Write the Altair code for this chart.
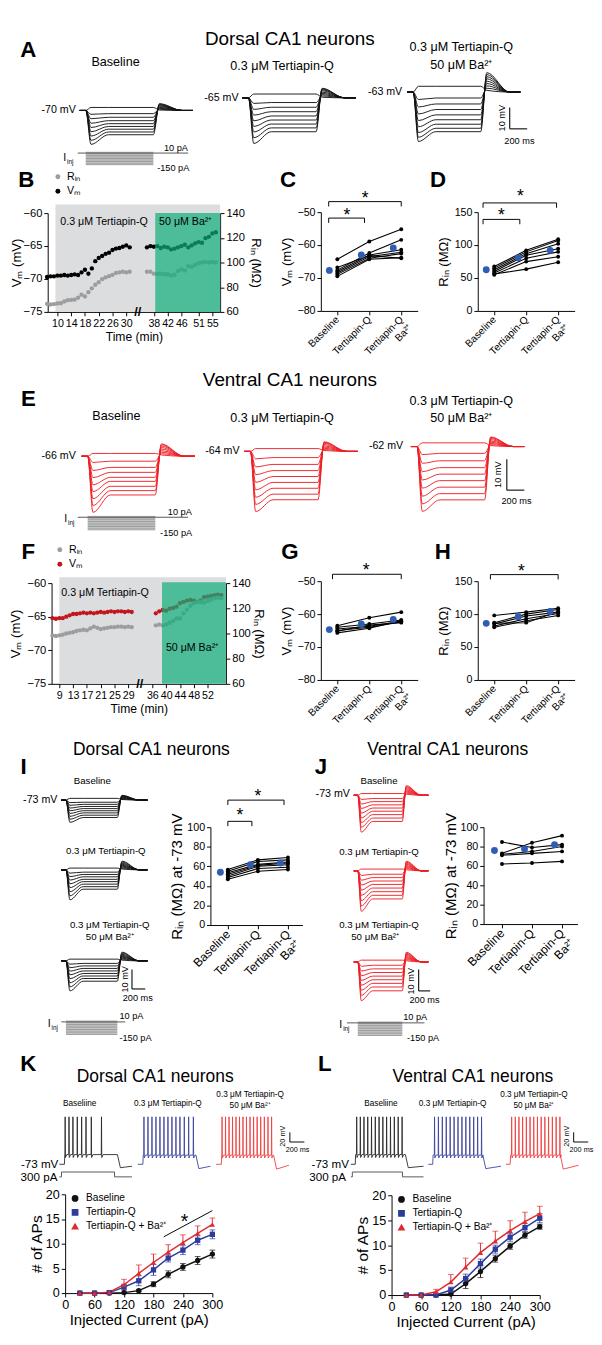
import altair as alt
import pandas as pd

FONT = "Liberation Sans"
OX, OY = 8, 6          # reference-pixel position of the view origin
W, H = 586, 1326       # single view covering the whole figure

# ---------------- colours ----------------
TRACE_BLACK = "#111111"
TRACE_RED = "#ee1d25"
DOT_GRAY = "#9d9d9d"
DOT_RED = "#c1161e"
MEAN_BLUE = "#2f5db4"
SHADE_GRAY = "#dcdddf"
SHADE_GREEN = "#0fae7b"
AP_COLORS = ["#262626", "#3b409c", "#ef3e3e"]
FI_COLORS = ["#111111", "#2d3b9b", "#e12a2e"]

# ---------------- step-protocol voltage families (mV from rest; +10 ... -150 pA) ----------------
PROTO_LEVELS = [10, -10, -30, -50, -70, -90, -110, -130, -150]
A1_SS = [1.4, -1.5, -3.2, -4.8, -6.2, -7.5, -8.8, -10.1, -11.4]
A1_PK = [1.4, -1.8, -3.9, -6.0, -8.0, -10.0, -12.0, -14.0, -15.9]
A1_RB = [0.2, 0.6, 1.0, 1.4, 1.8, 2.2, 2.6, 2.9, 3.2]
A2_SS = [1.8, -2.2, -4.4, -6.5, -8.5, -10.4, -12.3, -14.1, -15.9]
A2_PK = [1.8, -2.6, -5.4, -8.1, -10.8, -13.4, -16.0, -18.7, -21.4]
A2_RB = [0.3, 0.9, 1.5, 2.1, 2.7, 3.3, 3.8, 4.2, 4.5]
A3_SS = [2.7, -2.8, -5.6, -8.2, -10.7, -13.0, -15.1, -17.0, -18.6]
A3_PK = [2.7, -3.5, -7.0, -10.3, -13.4, -16.3, -19.0, -21.2, -23.2]
A3_RB = [0.8, 1.8, 2.9, 4.0, 5.1, 6.2, 7.2, 8.2, 9.1]

E1_SS = [0.9, -1.6, -3.6, -5.2, -6.8, -8.1, -9.7, -11.1, -12.5]
E1_PK = [0.9, -2.0, -4.6, -6.9, -9.2, -11.4, -13.7, -15.9, -18.1]
E1_RB = [0.4, 0.8, 1.3, 1.8, 2.3, 2.8, 3.3, 3.7, 4.0]
E2_SS = [0.9, -2.0, -4.2, -6.2, -8.1, -10.0, -11.9, -13.8, -15.6]
E2_PK = [0.9, -2.4, -5.0, -7.5, -10.0, -12.4, -14.8, -17.1, -19.4]
E2_RB = [0.3, 0.6, 1.0, 1.4, 1.8, 2.2, 2.6, 2.9, 3.1]
E3_SS = [1.2, -2.2, -4.6, -6.8, -8.9, -11.0, -13.1, -15.2, -17.2]
E3_PK = [1.2, -2.6, -5.4, -8.1, -10.8, -13.4, -16.0, -18.5, -20.9]
E3_RB = [0.3, 0.6, 1.0, 1.4, 1.8, 2.2, 2.6, 2.9, 3.1]

I1_SS = [0.9, -1.1, -2.2, -3.3, -4.4, -5.5, -6.6, -7.8, -9.0]
I1_PK = [0.9, -1.3, -2.7, -4.1, -5.5, -6.9, -8.4, -9.9, -11.5]
I1_RB = [0.3, 0.6, 0.9, 1.2, 1.5, 1.8, 2.1, 2.3, 2.5]
I2_SS = [0.9, -1.2, -2.4, -3.6, -4.9, -6.1, -7.4, -8.7, -10.0]
I2_PK = [0.9, -1.7, -3.5, -5.3, -7.2, -9.2, -11.3, -13.4, -15.5]
I2_RB = [0.4, 0.9, 1.4, 1.9, 2.4, 2.9, 3.4, 4.0, 4.5]
I3_SS = [0.9, -1.3, -2.6, -3.9, -5.2, -6.5, -7.8, -9.1, -10.5]
I3_PK = [0.9, -1.7, -3.5, -5.3, -7.2, -9.2, -11.3, -13.4, -15.5]
I3_RB = [0.4, 0.9, 1.4, 1.9, 2.4, 2.9, 3.4, 4.0, 4.5]

J1_SS = [0.8, -1.5, -3.0, -4.5, -6.0, -7.5, -9.1, -10.7, -12.3]
J1_PK = [0.8, -2.0, -4.1, -6.2, -8.4, -10.6, -12.8, -15.0, -17.3]
J1_RB = [0.5, 1.0, 1.5, 2.0, 2.5, 3.0, 3.5, 4.0, 4.5]
J2_SS = [0.8, -1.6, -3.2, -4.8, -6.4, -8.1, -9.8, -11.5, -13.2]
J2_PK = [0.8, -2.2, -4.4, -6.7, -9.1, -11.5, -14.0, -16.5, -19.0]
J2_RB = [0.5, 1.0, 1.5, 2.0, 2.5, 3.0, 3.5, 4.0, 4.5]
J3_SS = [0.8, -1.6, -3.3, -5.0, -6.7, -8.4, -10.1, -11.8, -13.6]
J3_PK = [0.8, -2.1, -4.3, -6.5, -8.7, -11.0, -13.3, -15.7, -18.2]
J3_RB = [0.5, 1.0, 1.5, 2.0, 2.5, 3.0, 3.5, 4.0, 4.5]

# ---------------- B / F time courses ----------------
B_TIME = [7, 8, 9, 10, 11, 12, 13, 14, 15, 16, 17, 18, 19, 20, 21, 22, 23, 24, 25, 26, 27, 28, 29, 30, 31,
          36, 37, 38, 39, 40, 41, 42, 43, 44, 45, 46, 47, 48, 49, 50, 51, 52, 53, 54, 55, 56]
B_VM = [-69.7, -69.6, -69.6, -69.5, -69.5, -69.4, -69.5, -69.4, -69.3, -69.4, -69.0, -68.6, -69.2, -68.4,
        -67.3, -66.8, -66.5, -66.2, -66.0, -65.6, -65.4, -65.3, -65.1, -64.9, -65.2,
        -65.2, -65.0, -65.1, -65.0, -65.3, -65.1, -65.2, -65.5, -65.4, -65.2, -65.0, -64.8, -65.2, -64.9,
        -64.6, -64.4, -64.5, -63.8, -63.6, -63.1, -62.9]
B_RIN = [66.5, 66.0, 66.3, 66.8, 67.0, 68.5, 69.5, 69.8, 70.0, 71.5, 74.0, 72.5, 76.0, 79.0, 82.0, 84.0,
         86.5, 88.0, 89.0, 90.0, 91.5, 92.0, 92.5, 92.0, 92.5,
         92.5, 92.5, 91.0, 90.5, 91.0, 90.5, 90.5, 89.5, 90.0, 93.0, 94.5, 93.5, 97.0, 96.5, 98.0, 99.5,
         100.0, 100.5, 100.0, 100.5, 100.0]
B_TICKS = [10, 14, 18, 22, 26, 30, 38, 42, 46, 51, 55]

F_TIME = [7, 8, 9, 10, 11, 12, 13, 14, 15, 16, 17, 18, 19, 20, 21, 22, 23, 24, 25, 26, 27, 28, 29, 30,
          37, 38, 39, 40, 41, 42, 43, 44, 45, 46, 47, 48, 49, 50, 51, 52, 53, 54, 55, 56]
F_VM = [-65.2, -65.3, -65.2, -65.2, -65.0, -64.8, -64.6, -64.6, -64.5, -64.4, -64.5, -64.4, -64.5, -64.4,
        -64.3, -64.4, -64.3, -64.2, -64.3, -64.2, -64.2, -64.3, -64.2, -64.3,
        -64.5, -64.2, -64.0, -64.1, -63.8, -63.7, -63.5, -63.0, -62.8, -62.6, -62.5, -62.6, -62.8, -62.6,
        -62.1, -62.0, -61.9, -61.8, -61.7, -61.8]
F_RIN = [98.5, 98.0, 98.5, 99.0, 100.0, 100.5, 101.0, 102.0, 102.5, 103.0, 102.5, 104.0, 105.5, 104.5,
         103.5, 104.0, 104.5, 105.0, 105.0, 105.5, 105.5, 105.0, 105.5, 105.0,
         106.5, 107.0, 106.5, 107.0, 108.5, 110.0, 112.0, 112.0, 116.0, 119.0, 122.0, 124.0, 125.0, 125.0,
         124.5, 126.0, 127.0, 128.0, 128.5, 128.0]
F_TICKS = [9, 13, 17, 21, 25, 29, 36, 40, 44, 48, 52]

# ---------------- paired plots (Baseline, Tertiapin-Q, Tertiapin-Q + Ba2+) ----------------
C_BASE = [-64.3, -67.6, -68.0, -68.5, -68.9, -69.5, -66.8]
C_TQ = [-58.9, -62.4, -63.0, -63.5, -64.0, -64.3, -63.2]
C_BA = [-55.2, -58.4, -61.4, -62.2, -62.6, -63.8, -64.0]
C_MEAN = [-67.7, -63.0, -60.9]
D_BASE = [67.5, 65.0, 62.5, 60.0, 57.6, 55.0, 56.0]
D_TQ = [92.0, 89.7, 87.0, 84.6, 80.0, 74.9, 63.5]
D_BA = [109.0, 106.8, 102.0, 94.5, 89.7, 82.3, 73.9]
D_MEAN = [62.5, 80.8, 92.0]
G_BASE = [-63.5, -64.0, -64.5, -65.0, -65.7, -65.2]
G_TQ = [-61.1, -63.0, -63.7, -64.0, -64.3, -63.3]
G_BA = [-59.4, -61.8, -62.2, -62.4, -62.0, -62.6]
G_MEAN = [-64.7, -63.0, -61.6]
H_BASE = [98.0, 87.0, 85.0, 82.0, 80.0, 86.0]
H_TQ = [103.0, 100.0, 97.0, 93.0, 90.0, 87.0]
H_BA = [109.0, 107.0, 103.0, 101.0, 98.0, 104.0]
H_MEAN = [86.0, 96.0, 104.0]
I_BASE = [56.7, 55.0, 53.5, 51.8, 50.2, 48.5, 46.8]
I_TQ = [66.6, 65.0, 62.0, 61.0, 60.0, 57.8, 55.0]
I_BA = [69.0, 66.6, 64.4, 63.5, 61.7, 59.0, 56.7]
I_MEAN = [54.0, 61.7, 63.4]
J_BASE = [84.7, 73.0, 72.0, 71.0, 62.0]
J_TQ = [79.0, 84.0, 75.0, 73.0, 63.0]
J_BA = [82.0, 91.3, 80.0, 75.0, 64.7]
J_MEAN = [76.0, 77.5, 82.0]

# significance brackets: (from, to, level) and stars (x, y)
C_BR = [(-0.27, 2.0, -46.8), (-0.27, 0.85, -51.8)]
C_ST = [(0.87, -45.0), (0.3, -49.9)]
D_BR = [(-0.35, 1.95, 164.0), (-0.35, 0.8, 139.0)]
D_ST = [(0.82, 179.0), (0.22, 150.0)]
G_BR = [(-0.15, 2.0, -47.9)]
G_ST = [(0.9, -45.9)]
H_BR = [(-0.12, 2.0, 160.0)]
H_ST = [(0.85, 170.0)]
I_BR = [(0.0, 1.87, 127.7), (0.0, 0.8, 106.0)]
I_ST = [(1.0, 134.7), (0.4, 115.0)]

# ---------------- K / L: firing ----------------
K_BL_SP = [80, 133, 187, 247, 307, 367, 440, 580]
K_TQ_SP = [85, 140, 195, 250, 305, 360, 415, 470, 525, 580, 640, 700, 765]
K_BA_SP = [80, 128, 176, 224, 272, 320, 368, 416, 465, 514, 563, 612, 662, 712, 762]
L_BL_SP = [80, 130, 180, 232, 284, 336, 388, 440, 492, 545, 598, 651, 705]
L_TQ_SP = [85, 138, 192, 246, 300, 354, 408, 462, 516, 570, 624, 678, 732]
L_BA_SP = [80, 130, 180, 231, 282, 333, 384, 435, 486, 537, 588, 640, 692, 744]

CURRENT = [30, 60, 90, 120, 150, 180, 210, 240, 270, 300]
FI_CONDS = ["Baseline", "Tertiapin-Q", "Tertiapin-Q + Ba²⁺"]
K_BL = [0, 0, 0, 0.1, 0.5, 1.8, 3.8, 5.3, 6.6, 7.9]
K_BL_E = [0, 0, 0, 0.1, 0.2, 0.5, 0.7, 0.7, 0.8, 0.8]
K_TQ = [0, 0, 0.1, 1.2, 2.5, 4.7, 7.1, 8.7, 10.7, 11.9]
K_TQ_E = [0, 0, 0.1, 0.6, 1.0, 1.1, 0.8, 0.9, 0.9, 0.9]
K_BA = [0, 0, 0.2, 1.7, 4.0, 6.2, 8.3, 10.2, 12.1, 13.9]
K_BA_E = [0, 0, 0.2, 1.1, 1.7, 1.7, 1.5, 1.6, 1.5, 1.3]
L_BL = [0, 0, 0, 0.2, 2.3, 4.7, 7.3, 9.8, 12.0, 13.7]
L_BL_E = [0, 0, 0, 0.2, 1.0, 1.2, 0.7, 0.6, 0.6, 0.5]
L_TQ = [0, 0, 0, 1.0, 3.3, 6.3, 9.2, 11.6, 13.5, 15.4]
L_TQ_E = [0, 0, 0, 0.6, 0.9, 0.9, 0.8, 0.8, 0.8, 0.9]
L_BA = [0, 0, 0.65, 2.6, 5.6, 8.5, 10.8, 12.9, 14.7, 16.3]
L_BA_E = [0, 0, 0.5, 1.5, 1.8, 1.9, 2.0, 2.0, 1.9, 1.5]
K_SIG = [(201, 11.4), (300, 16.7)]
K_SIG_STAR = (243, 15.3)

COND_LABELS = "datum.value == 0 ? 'Baseline' : (datum.value == 1 ? 'Tertiapin-Q' : ['Tertiapin-Q', 'Ba²⁺'])"

T_ON, T_OFF, T_END = 70, 845, 1300
T_BACK = 330   # ms after step end by which the rebound has returned to rest


# ================= helpers =================
def XS(d, x0, w):
    return alt.Scale(domain=list(d), range=[x0 - OX, x0 + w - OX], nice=False, zero=False)


def YS(d, y0, h):
    return alt.Scale(domain=list(d), range=[y0 + h - OY, y0 - OY], nice=False, zero=False)


def off_bottom(y0, h):
    return (y0 + h - OY) - H


def off_left(x0):
    return -(x0 - OX)


def off_right(x0, w):
    return (x0 + w - OX) - W


def one():
    return pd.DataFrame({"k": [0]})


def txt(s, x, y, size=11, weight="normal", align="center", baseline="middle", angle=0, color="black"):
    return alt.Chart(one()).mark_text(text=s, font=FONT, fontSize=size, fontWeight=weight, align=align,
                                      baseline=baseline, angle=angle, color=color).encode(
        x=alt.value(x - OX), y=alt.value(y - OY))


def texts_of(texts):
    out = []
    for t in texts:
        kw = t[3] if len(t) > 3 else {}
        out.append(txt(t[0], t[1], t[2], **kw))
    return out


def iinj(x, y):
    return [txt("I", x, y, size=11, align="left"), txt("inj", x + 4, y + 4, size=6.5, align="left")]


def family(V0, ss, pk, rb):
    rows = []
    for i in range(len(ss)):
        pts = [(0, V0), (T_ON, V0), (T_ON + 60, V0 + pk[i]), (T_ON + 260, V0 + ss[i]),
               (T_OFF, V0 + ss[i]), (T_OFF + 70, V0 + rb[i]), (T_OFF + T_BACK, V0), (T_END, V0)]
        for k, (t, v) in enumerate(pts):
            rows.append({"sw": i, "o": k, "t": t, "v": v})
    return pd.DataFrame(rows)


def step_panel(org, w, h, V0, v0pix, kmv, ss, pk, rb, color, texts=(), proto=None, sbar=None):
    ydom = (V0 - (org[1] + h - v0pix) / kmv, V0 + (v0pix - org[1]) / kmv)
    xs = XS((0, T_END), org[0], w)
    ys = YS(ydom, org[1], h)
    layers = [alt.Chart(family(V0, ss, pk, rb)).mark_line(color=color, strokeWidth=0.95,
                                                          interpolate="monotone").encode(
        x=alt.X("t:Q", scale=xs, axis=None), y=alt.Y("v:Q", scale=ys, axis=None),
        detail="sw:N", order="o:Q")]
    if sbar is not None:
        xr, yr, dv, lab_v, lab_t = sbar
        t0 = (xr - org[0]) / w * T_END
        v0 = ydom[1] - (yr - org[1]) / h * (ydom[1] - ydom[0])
        segs = pd.DataFrame({"t": [t0, t0], "t2": [t0 + 200, t0], "v": [v0, v0], "v2": [v0, v0 + dv]})
        layers.append(alt.Chart(segs).mark_rule(color="black", strokeWidth=1.1).encode(
            x=alt.X("t:Q", scale=xs, axis=None), x2="t2:Q",
            y=alt.Y("v:Q", scale=ys, axis=None), y2="v2:Q"))
        layers.append(txt("10 mV", lab_v[0], lab_v[1], size=9.5, angle=270))
        layers.append(txt("200 ms", lab_t[0], lab_t[1], size=9.5))
    if proto is not None:
        p0, p150, xa, xb, lab_i, lab_10, lab_150 = proto
        k = (p150 - p0) / 150.0
        pdom = (-(org[1] + h - p0) / k, (p0 - org[1]) / k)
        ps = YS(pdom, org[1], h)
        box = pd.DataFrame({"t": [T_ON], "t2": [T_OFF], "i": [PROTO_LEVELS[0]], "i2": [PROTO_LEVELS[-1]]})
        lv = pd.DataFrame({"t": [T_ON] * len(PROTO_LEVELS), "t2": [T_OFF] * len(PROTO_LEVELS),
                           "i": PROTO_LEVELS})
        base = pd.DataFrame({"t": [(xa - org[0]) / w * T_END], "t2": [(xb - org[0]) / w * T_END], "i": [0]})
        layers.append(alt.Chart(box).mark_rect(color="#d4d4d4").encode(
            x=alt.X("t:Q", scale=xs, axis=None), x2="t2:Q", y=alt.Y("i:Q", scale=ps, axis=None), y2="i2:Q"))
        layers.append(alt.Chart(lv).mark_rule(color="#8a8a8a", strokeWidth=0.8).encode(
            x=alt.X("t:Q", scale=xs, axis=None), x2="t2:Q", y=alt.Y("i:Q", scale=ps, axis=None)))
        layers.append(alt.Chart(base).mark_rule(color="#555555", strokeWidth=1).encode(
            x=alt.X("t:Q", scale=xs, axis=None), x2="t2:Q", y=alt.Y("i:Q", scale=ps, axis=None)))
        layers += iinj(lab_i[0], lab_i[1])
        layers.append(txt("10 pA", lab_10[0], lab_10[1], size=9.5, align="left"))
        layers.append(txt("-150 pA", lab_150[0], lab_150[1], size=9.5, align="left"))
    layers += texts_of(texts)
    ch = alt.layer(*layers)
    if proto is not None:
        ch = ch.resolve_scale(y="independent")
    return ch


def ap_points(spikes, t_on, t_off, vp, vpk, vaft, vend):
    pts = [(0, -73), (t_on, -73), (t_on + 5, vp)]
    for s in spikes:
        pts += [(s - 3, vp), (s, vpk), (s + 4, vp - 6), (s + 22, vp)]
    pts += [(t_off, vp), (t_off + 40, vaft), (1000, vend)]
    return pd.DataFrame({"o": list(range(len(pts))), "t": [p[0] for p in pts], "v": [p[1] for p in pts]})


def ap_panel(org, w, h, spikes, t_on, t_off, vp, vaft, vend, color, texts=(), current=None, sbar=None):
    V0, v0pix, k = -73, 1176, 0.5
    ydom = (V0 - (org[1] + h - v0pix) / k, V0 + (v0pix - org[1]) / k)
    xs = XS((0, 1000), org[0], w)
    ys = YS(ydom, org[1], h)
    layers = [alt.Chart(ap_points(spikes, t_on, t_off, vp, 25, vaft, vend)).mark_line(
        color=color, strokeWidth=0.9).encode(
        x=alt.X("t:Q", scale=xs, axis=None), y=alt.Y("v:Q", scale=ys, axis=None), order="o:Q")]
    if sbar is not None:
        xr, yr = sbar
        t0 = (xr - org[0]) / w * 1000
        v0 = ydom[1] - (yr - org[1]) / h * (ydom[1] - ydom[0])
        segs = pd.DataFrame({"t": [t0, t0], "t2": [t0 + 200, t0], "v": [v0, v0], "v2": [v0, v0 + 20]})
        layers.append(alt.Chart(segs).mark_rule(color="black", strokeWidth=1).encode(
            x=alt.X("t:Q", scale=xs, axis=None), x2="t2:Q",
            y=alt.Y("v:Q", scale=ys, axis=None), y2="v2:Q"))
        layers.append(txt("20 mV", xr - 7, yr - 6, size=7.5, angle=270))
        layers.append(txt("200 ms", xr + 8, yr + 8, size=7.5))
    if current is not None:
        p0, p300, lab = current
        kk = (p0 - p300) / 300.0
        cdom = (-(org[1] + h - p0) / kk, (p0 - org[1]) / kk)
        cur = pd.DataFrame({"o": [0, 1, 2, 3, 4, 5],
                            "t": [0, t_on - 40, t_on - 40, t_off - 40, t_off - 40, 1000],
                            "i": [0, 0, 300, 300, 0, 0]})
        layers.append(alt.Chart(cur).mark_line(color="#555555", strokeWidth=1).encode(
            x=alt.X("t:Q", scale=xs, axis=None), y=alt.Y("i:Q", scale=YS(cdom, org[1], h), axis=None),
            order="o:Q"))
        layers.append(txt("300 pA", lab[0], lab[1], size=12, align="right"))
    layers += texts_of(texts)
    ch = alt.layer(*layers)
    if current is not None:
        ch = ch.resolve_scale(y="independent")
    return ch


def paired(org, w, h, cond_vals, means, ydom, yvals, ytitle, tick0, step, brackets, stars,
           texts=(), lab_size=10.5, title_size=13.5, title_pad=4):
    xdom = (-tick0 / step, (w - tick0) / step)
    xs = XS(xdom, org[0], w)
    ys = YS(ydom, org[1], h)
    X = alt.X("x:Q", scale=xs, axis=alt.Axis(values=[0, 1, 2], labelExpr=COND_LABELS, labelAngle=315,
                                             labelAlign="right", labelBaseline="middle", labelFontSize=lab_size,
                                             title=None, labelPadding=3, labelOverlap=False, labelFlush=False,
                                             orient="bottom", offset=off_bottom(org[1], h)))
    Y = alt.Y("y:Q", scale=ys, axis=alt.Axis(values=yvals, title=ytitle, titleFontSize=title_size,
                                             titlePadding=title_pad, labelOverlap=False, labelFlush=False,
                                             orient="left", offset=off_left(org[0])))
    n = len(cond_vals[0])
    cells = pd.DataFrame([{"cell": c, "x": k, "y": cond_vals[k][c]} for k in range(3) for c in range(n)])
    mdf = pd.DataFrame({"x": [k - 0.25 for k in range(3)], "y": means})
    drop = 5.0 * (ydom[1] - ydom[0]) / h
    segs = []
    for (a, b, lvl) in brackets:
        segs += [dict(x=a, x2=b, y=lvl, y2=lvl), dict(x=a, x2=a, y=lvl, y2=lvl - drop),
                 dict(x=b, x2=b, y=lvl, y2=lvl - drop)]
    layers = [
        alt.Chart(cells).mark_line(color="black", strokeWidth=1.1,
                                   point=alt.OverlayMarkDef(filled=True, size=16, color="black")).encode(
            x=X, y=Y, detail="cell:N", order="x:Q"),
        alt.Chart(mdf).mark_circle(size=50, color=MEAN_BLUE, opacity=1).encode(x=X, y=Y),
    ]
    if segs:
        layers.append(alt.Chart(pd.DataFrame(segs)).mark_rule(color="black", strokeWidth=1).encode(
            x=X, x2="x2:Q", y=Y, y2="y2:Q"))
        sdf = pd.DataFrame({"x": [s[0] for s in stars], "y": [s[1] for s in stars]})
        layers.append(alt.Chart(sdf).mark_text(text="*", font=FONT, fontSize=18, dy=4).encode(x=X, y=Y))
    layers += texts_of(texts)
    return alt.layer(*layers)


def timecourse(org, w, h, times, vm, rin, tick_px, ticks, vm_color, gray_px, gray_top_px, green_px,
               green_top_px, legend_xy, lab1, lab2, brk, texts=(), pads=(0, 5, 3)):
    ppm = (tick_px[1][1] - tick_px[0][1]) / (tick_px[1][0] - tick_px[0][0])
    t_a = tick_px[0][0] - (tick_px[0][1] - org[0]) / ppm
    xdom = (t_a, t_a + w / ppm)
    xs = XS(xdom, org[0], w)
    vs = YS((-75, -60), org[1], h)
    rs = YS((60, 140), org[1], h)

    def v_of(py):
        return -75 + (org[1] + h - py) / h * 15

    def t_of(px):
        return t_a + (px - org[0]) / ppm

    X = lambda f: alt.X(f, scale=xs, axis=alt.Axis(values=ticks, title="Time (min)", titleFontSize=12.5,
                                                   labelFontSize=11, labelOverlap=False, labelFlush=False,
                                                   titlePadding=pads[2], orient="bottom",
                                                   offset=off_bottom(org[1], h)))
    cs = alt.Scale(domain=["Rᵢₙ", "Vₘ"], range=[DOT_GRAY, vm_color])
    leg = alt.Legend(orient="none", legendX=legend_xy[0] - OX, legendY=legend_xy[1] - OY, title=None,
                     labelFontSize=11, symbolSize=26, symbolType="circle", rowPadding=3, padding=0,
                     labelFont=FONT, symbolStrokeWidth=0)
    gray = pd.DataFrame({"t": [t_of(gray_px)], "t2": [xdom[1]], "v": [-75], "v2": [v_of(gray_top_px)]})
    green = pd.DataFrame({"t": [t_of(green_px)], "t2": [xdom[1]], "v": [-75], "v2": [v_of(green_top_px)]})
    vdf = pd.DataFrame({"t": times, "v": vm, "ser": "Vₘ"})
    rdf = pd.DataFrame({"t": times, "v": rin, "ser": "Rᵢₙ"})
    layers = [
        alt.Chart(gray).mark_rect(color=SHADE_GRAY).encode(
            x=X("t:Q"), x2="t2:Q", y=alt.Y("v:Q", scale=vs, axis=None), y2="v2:Q"),
        alt.Chart(vdf).mark_circle(size=20, opacity=1).encode(
            x=X("t:Q"),
            y=alt.Y("v:Q", scale=vs, axis=alt.Axis(values=[-75, -70, -65, -60], title="Vₘ (mV)",
                                                   orient="left", offset=off_left(org[0]), titleFontSize=13.5,
                                                   titlePadding=pads[0], labelFontSize=11.5)),
            color=alt.Color("ser:N", scale=cs, legend=leg)),
        alt.Chart(rdf).mark_circle(size=20, opacity=1).encode(
            x=X("t:Q"),
            y=alt.Y("v:Q", scale=rs, axis=alt.Axis(values=[60, 80, 100, 120, 140], title="Rᵢₙ (MΩ)",
                                                   orient="right", offset=off_right(org[0], w), titleAngle=90,
                                                   titleFontSize=13.5, titlePadding=pads[1],
                                                   labelFontSize=11.5)),
            color=alt.Color("ser:N", scale=cs, legend=leg)),
        alt.Chart(green).mark_rect(color=SHADE_GREEN, opacity=0.7).encode(
            x=X("t:Q"), x2="t2:Q", y=alt.Y("v:Q", scale=vs, axis=None), y2="v2:Q"),
        txt("0.3 μM Tertiapin-Q", lab1[0], lab1[1], size=11, align="left"),
        txt("50 μM Ba²⁺", lab2[0], lab2[1], size=11, align="left"),
        txt("//", brk[0], brk[1], size=13, weight="bold"),
    ]
    layers += texts_of(texts)
    return alt.layer(*layers).resolve_scale(y="independent")


def fi_panel(org, w, h, vals, errs, legend_xy, texts=(), sig=None):
    rows = []
    for ci, cond in enumerate(FI_CONDS):
        for j, cur in enumerate(CURRENT):
            v, e = vals[ci][j], errs[ci][j]
            rows.append(dict(cond=cond, ci=ci, cur=cur, val=v, err=e, lo=(v if ci == 2 else v - e), hi=v + e))
    df = pd.DataFrame(rows)
    edf = df[df["err"] > 0.15]
    xs = XS((0, 300), org[0], w)
    ys = YS((0, 20), org[1], h)
    X = alt.X("cur:Q", scale=xs,
              axis=alt.Axis(values=[0, 60, 120, 180, 240, 300], title="Injected Current (pA)", titleFontSize=15.5,
                            labelFontSize=13, titlePadding=1, labelFlush=False, labelOverlap=False,
                            orient="bottom", offset=off_bottom(org[1], h)))
    yax = alt.Axis(values=[0, 5, 10, 15, 20], title="# of APs", titleFontSize=16, labelFontSize=13,
                   titlePadding=1, labelFlush=False, orient="left", offset=off_left(org[0]))
    Yf = lambda f: alt.Y(f, scale=ys, axis=yax)
    cs = alt.Scale(domain=FI_CONDS, range=FI_COLORS)
    shp = alt.Scale(domain=FI_CONDS, range=["circle", "square", "triangle-up"])
    leg = alt.Legend(orient="none", legendX=legend_xy[0] - OX, legendY=legend_xy[1] - OY, title=None,
                     labelFontSize=10.5, symbolSize=30, rowPadding=2.5, padding=0, labelFont=FONT,
                     labelOffset=6, symbolOpacity=1)
    C = alt.Color("cond:N", scale=cs, legend=leg)
    layers = [
        alt.Chart(edf).mark_rule(strokeWidth=1).encode(x=X, y=Yf("lo:Q"), y2="hi:Q", color=C),
        alt.Chart(edf).mark_tick(orient="horizontal", size=6, thickness=1).encode(x=X, y=Yf("hi:Q"), color=C),
        alt.Chart(edf[edf["ci"] < 2]).mark_tick(orient="horizontal", size=6, thickness=1).encode(
            x=X, y=Yf("lo:Q"), color=C),
        alt.Chart(df).mark_line(strokeWidth=1.5).encode(x=X, y=Yf("val:Q"), color=C, order="cur:Q"),
        alt.Chart(df).mark_point(filled=True, size=30, opacity=1).encode(
            x=X, y=Yf("val:Q"), color=C, shape=alt.Shape("cond:N", scale=shp, legend=leg)),
    ]
    if sig is not None:
        (a, b), star = sig
        sdf = pd.DataFrame({"cur": [a[0]], "c2": [b[0]], "val": [a[1]], "v2": [b[1]]})
        layers.append(alt.Chart(sdf).mark_rule(color="black", strokeWidth=1).encode(
            x=X, x2="c2:Q", y=Yf("val:Q"), y2="v2:Q"))
        layers.append(alt.Chart(pd.DataFrame({"cur": [star[0]], "val": [star[1]]})).mark_text(
            text="*", font=FONT, fontSize=20, dy=5).encode(x=X, y=Yf("val:Q")))
    layers += texts_of(texts)
    return alt.layer(*layers)


# ================= panels =================
LET = dict(size=23, weight="bold")
BIG = dict(size=19.5)
TT = dict(size=13)
MV = dict(size=11, align="right")
SM = dict(size=10)
KS = dict(size=8.5)

panels = []

# Row A
panels.append(step_panel((73, 55), 117, 95, -70, 88, 2.2, A1_SS, A1_PK, A1_RB, TRACE_BLACK,
                         texts=[("Dorsal CA1 neurons", 290, 14, BIG), ("A", 20, 26, LET),
                                ("Baseline", 110, 38, TT), ("-70 mV", 69, 88, MV)],
                         proto=(132, 144, 71, 185, (56, 137), (160, 127), (153, 148))))
panels.append(step_panel((241, 55), 117, 95, -65, 75, 2.2, A2_SS, A2_PK, A2_RB, TRACE_BLACK,
                         texts=[("0.3 μM Tertiapin-Q", 282, 42, TT), ("-65 mV", 237, 75, MV)]))
panels.append(step_panel((411, 55), 117, 95, -63, 69, 2.2, A3_SS, A3_PK, A3_RB, TRACE_BLACK,
                         texts=[("0.3 μM Tertiapin-Q", 467, 23, TT), ("50 μM Ba²⁺", 467, 41, TT),
                                ("-63 mV", 406, 69, MV)],
                         sbar=(517, 107, 10, (509, 96), (527, 120))))

# Row B/C/D
panels.append(timecourse((40, 194), 178, 102, B_TIME, B_VM, B_RIN, ((10, 50), (55, 210)), B_TICKS, "#000000",
                         48, 185, 151, 194, (45, 151), (53, 203), (155, 203), (133, 296),
                         texts=[("B", 18, 160, LET)], pads=(0, 4, 3)))
panels.append(paired((322, 193), 100, 102, [C_BASE, C_TQ, C_BA], C_MEAN, (-80, -50), [-80, -70, -60, -50],
                     "Vₘ (mV)", 17, 33, C_BR, C_ST, texts=[("C", 288, 160, LET)]))
panels.append(paired((484, 193), 100, 102, [D_BASE, D_TQ, D_BA], D_MEAN, (0, 150), [0, 50, 100, 150],
                     "Rᵢₙ (MΩ)", 17, 33, D_BR, D_ST, texts=[("D", 443, 160, LET)]))

# Row E
panels.append(step_panel((75, 420), 117, 105, -66, 445, 3.2, E1_SS, E1_PK, E1_RB, TRACE_RED,
                         texts=[("Ventral CA1 neurons", 290, 366, BIG), ("E", 20, 386, LET),
                                ("Baseline", 111, 404, TT), ("-66 mV", 69, 445, MV)],
                         proto=(508, 521, 71, 185, (57, 510), (164, 503), (156, 524))))
panels.append(step_panel((243, 420), 117, 105, -64, 440, 3.2, E2_SS, E2_PK, E2_RB, TRACE_RED,
                         texts=[("0.3 μM Tertiapin-Q", 282, 406, TT), ("-64 mV", 238, 440, MV)]))
panels.append(step_panel((415, 420), 117, 105, -62, 435, 3.2, E3_SS, E3_PK, E3_RB, TRACE_RED,
                         texts=[("0.3 μM Tertiapin-Q", 467, 388, TT), ("50 μM Ba²⁺", 467, 406, TT),
                                ("-62 mV", 407, 435, MV)],
                         sbar=(514, 480, 10, (505, 464), (524, 491))))

# Row F/G/H
panels.append(timecourse((44, 576), 180, 104, F_TIME, F_VM, F_RIN, ((9, 52), (52, 205)), F_TICKS, DOT_RED,
                         52, 570, 158, 575, (47, 536), (54, 586), (162, 643), (135, 680),
                         texts=[("F", 20, 544, LET)], pads=(5, 1, 3)))
panels.append(paired((322, 574), 100, 102, [G_BASE, G_TQ, G_BA], G_MEAN, (-80, -50), [-80, -70, -60, -50],
                     "Vₘ (mV)", 17, 33, G_BR, G_ST, texts=[("G", 290, 544, LET)]))
panels.append(paired((484, 574), 100, 102, [H_BASE, H_TQ, H_BA], H_MEAN, (0, 150), [0, 50, 100, 150],
                     "Rᵢₙ (MΩ)", 17, 33, H_BR, H_ST, texts=[("H", 448, 544, LET)]))

# Row I/J
panels.append(step_panel((54, 788), 89, 42, -73, 800, 2.0, I1_SS, I1_PK, I1_RB, TRACE_BLACK,
                         texts=[("Dorsal CA1 neurons", 147, 748, dict(size=18)), ("I", 15, 766, LET),
                                ("Baseline", 86, 780, SM), ("-73 mV", 50, 800, MV)]))
panels.append(step_panel((54, 850), 89, 60, -73, 872, 2.0, I2_SS, I2_PK, I2_RB, TRACE_BLACK,
                         texts=[("0.3 μM Tertiapin-Q", 100, 853, SM)]))
panels.append(step_panel((54, 945), 89, 100, -73, 966, 2.0, I3_SS, I3_PK, I3_RB, TRACE_BLACK,
                         texts=[("0.3 μM Tertiapin-Q", 104, 929, SM), ("50 μM Ba²⁺", 104, 941, SM)],
                         sbar=(127, 995, 10, (120, 985), (133, 1004)),
                         proto=(1029, 1042, 54, 120, (40, 1031), (114, 1023), (114, 1046))))
panels.append(paired((208, 828), 95, 101, [I_BASE, I_TQ, I_BA], I_MEAN, (0, 100), [0, 20, 40, 60, 80, 100],
                     "Rᵢₙ (MΩ) at -73 mV", 18, 31, I_BR, I_ST, lab_size=12.5, title_size=15.5, title_pad=2))
panels.append(step_panel((356, 780), 77, 60, -73, 795, 2.2, J1_SS, J1_PK, J1_RB, TRACE_RED,
                         texts=[("Ventral CA1 neurons", 453, 748, dict(size=18)), ("J", 322, 766, LET),
                                ("Baseline", 382, 780, SM), ("-73 mV", 352, 794, MV)]))
panels.append(step_panel((356, 850), 77, 75, -73, 873, 2.2, J2_SS, J2_PK, J2_RB, TRACE_RED,
                         texts=[("0.3 μM Tertiapin-Q", 382, 854, SM)]))
panels.append(step_panel((356, 945), 77, 100, -73, 967, 2.2, J3_SS, J3_PK, J3_RB, TRACE_RED,
                         texts=[("0.3 μM Tertiapin-Q", 382, 929, SM), ("50 μM Ba²⁺", 378, 941, SM)],
                         sbar=(423, 997, 10, (415, 987), (429, 1006)),
                         proto=(1030, 1043, 349, 429, (341, 1032), (407, 1024), (411, 1046))))
panels.append(paired((490, 828), 97, 100, [J_BASE, J_TQ, J_BA], J_MEAN, (0, 100), [0, 20, 40, 60, 80, 100],
                     "Rᵢₙ (MΩ) at -73 mV", 19, 31, [], [], lab_size=12.5, title_size=15.5, title_pad=2))

# Row K/L traces
panels.append(ap_panel((52, 1095), 75, 100, K_BL_SP, 70, 800, -53, -80, -77, AP_COLORS[0],
                       texts=[("K", 20, 1073, LET), ("Dorsal CA1 neurons", 151, 1086, dict(size=18)),
                              ("Baseliine", 73, 1113, KS), ("-73 mV", 51, 1176, dict(size=12, align="right"))],
                       current=(1189, 1184, (50, 1189))))
panels.append(ap_panel((133, 1095), 75, 100, K_TQ_SP, 70, 800, -54, -82, -77, AP_COLORS[1],
                       texts=[("0.3 μM Tertiapin-Q", 164, 1113, KS)]))
panels.append(ap_panel((214, 1095), 75, 100, K_BA_SP, 70, 790, -54, -83, -75, AP_COLORS[2],
                       texts=[("0.3 μM Tertiapin-Q", 249, 1104, KS), ("50 μM Ba²⁺", 249, 1115, KS)],
                       sbar=(290, 1153)))
panels.append(ap_panel((353, 1095), 75, 100, L_BL_SP, 60, 750, -53, -80, -77, AP_COLORS[0],
                       texts=[("L", 326, 1073, LET), ("Ventral CA1 neurons", 479, 1086, dict(size=18)),
                              ("Baseliine", 384, 1113, KS), ("-73 mV", 351, 1176, dict(size=12, align="right"))],
                       current=(1189, 1184, (348, 1189))))
panels.append(ap_panel((433, 1095), 75, 100, L_TQ_SP, 60, 750, -54, -82, -77, AP_COLORS[1],
                       texts=[("0.3 μM Tertiapin-Q", 458, 1113, KS)]))
panels.append(ap_panel((513, 1095), 75, 100, L_BA_SP, 60, 750, -54, -83, -75, AP_COLORS[2],
                       texts=[("0.3 μM Tertiapin-Q", 542, 1104, KS), ("50 μM Ba²⁺", 542, 1115, KS)],
                       sbar=(583, 1153)))

# Row K/L F-I curves
panels.append(fi_panel((58, 1207), 152, 102, [K_BL, K_TQ, K_BA], [K_BL_E, K_TQ_E, K_BA_E], (63, 1206),
                       sig=(K_SIG, K_SIG_STAR)))
panels.append(fi_panel((395, 1208), 153, 103, [L_BL, L_TQ, L_BA], [L_BL_E, L_TQ_E, L_BA_E], (400, 1207)))

chart = alt.layer(*panels).resolve_scale(
    x="independent", y="independent", color="independent", shape="independent"
).properties(width=W, height=H, padding=0, background="white").configure_view(
    stroke=None
).configure_axis(
    labelFont=FONT, titleFont=FONT, labelColor="black", titleColor="black", domainColor="black",
    tickColor="black", grid=False, titleFontWeight="normal", labelFontSize=11, titleFontSize=13,
    tickSize=4, domainWidth=1, tickWidth=1, labelPadding=2
).configure_legend(labelFont=FONT, labelColor="black")

chart.save("out.html", embed_options={"renderer": "svg", "actions": False})
